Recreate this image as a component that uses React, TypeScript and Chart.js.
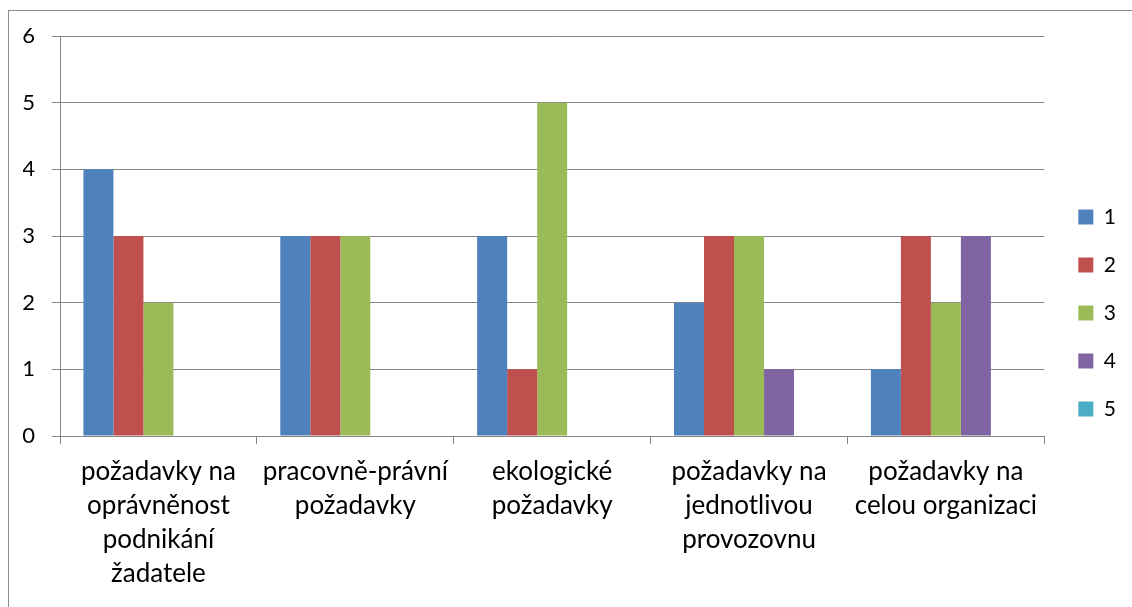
import React, { useEffect, useRef } from "react";
import { Chart, registerables } from "chart.js";

Chart.register(...registerables);

const categories: string[][] = [
  ["požadavky na", "oprávněnost", "podnikání", "žadatele"],
  ["pracovně-právní", "požadavky"],
  ["ekologické", "požadavky"],
  ["požadavky na", "jednotlivou", "provozovnu"],
  ["požadavky na", "celou organizaci"],
];

const seriesNames = ["1", "2", "3", "4", "5"];
const series1 = [4, 3, 3, 2, 1];
const series2 = [3, 3, 1, 3, 3];
const series3 = [2, 3, 5, 3, 2];
const series4 = [0, 0, 0, 1, 3];
const series5 = [0, 0, 0, 0, 0];
const seriesColors = ["#4F81BD", "#C0504D", "#9BBB59", "#8064A2", "#4BACC6"];

const yMin = 0;
const yMax = 6;
const yStep = 1;

const FONT = "Lato, 'Open Sans', sans-serif";
const GRID = "#868686";

export default function App() {
  const ref = useRef<HTMLCanvasElement | null>(null);

  useEffect(() => {
    if (!ref.current) return;
    const values = [series1, series2, series3, series4, series5];
    const chart = new Chart(ref.current, {
      type: "bar",
      data: {
        labels: categories,
        datasets: values.map((v, i) => ({
          label: seriesNames[i],
          data: v,
          backgroundColor: seriesColors[i],
          borderWidth: 0,
          categoryPercentage: 0.762,
          barPercentage: 1,
        })),
      },
      options: {
        animation: false,
        responsive: false,
        maintainAspectRatio: false,
        layout: { padding: { left: 14, top: 25, right: 6, bottom: 0 } },
        plugins: {
          legend: {
            position: "right",
            labels: {
              boxWidth: 15,
              boxHeight: 15,
              padding: 27,
              color: "#000",
              font: { family: FONT, size: 21 },
            },
          },
          tooltip: { enabled: false },
        },
        scales: {
          x: {
            grid: {
              display: true,
              drawOnChartArea: false,
              drawTicks: true,
              tickLength: 8,
              color: GRID,
              offset: true,
            },
            border: { display: true, color: GRID },
            ticks: {
              maxRotation: 0,
              minRotation: 0,
              autoSkip: false,
              padding: 11,
              color: "#000",
              font: { family: FONT, size: 26, lineHeight: 1.3 },
            },
            afterFit: (s: any) => {
              s.height = 154;
              s.paddingLeft = 0;
              s.paddingRight = 0;
            },
          },
          y: {
            min: yMin,
            max: yMax,
            ticks: {
              stepSize: yStep,
              padding: 17,
              color: "#000",
              font: { family: FONT, size: 22 },
            },
            grid: { color: GRID, tickLength: 8, drawTicks: true },
            border: { display: true, color: GRID },
            afterFit: (s: any) => {
              s.width = 37;
              s.paddingTop = 0;
              s.paddingBottom = 0;
            },
          },
          yR: {
            position: "right",
            display: true,
            grid: { display: false },
            border: { display: false },
            ticks: { display: false },
            afterFit: (s: any) => {
              s.width = 7;
              s.paddingTop = 0;
              s.paddingBottom = 0;
            },
          },
        },
      },
    });
    return () => chart.destroy();
  }, []);

  return (
    <div
      style={{
        position: "fixed",
        left: 8,
        top: 10,
        width: 1140,
        height: 620,
        borderLeft: "1px solid #8c8c8c",
        borderTop: "1px solid #8c8c8c",
        background: "#fff",
      }}
    >
      <canvas ref={ref} width={1123} height={579} style={{ display: "block" }} />
    </div>
  );
}
